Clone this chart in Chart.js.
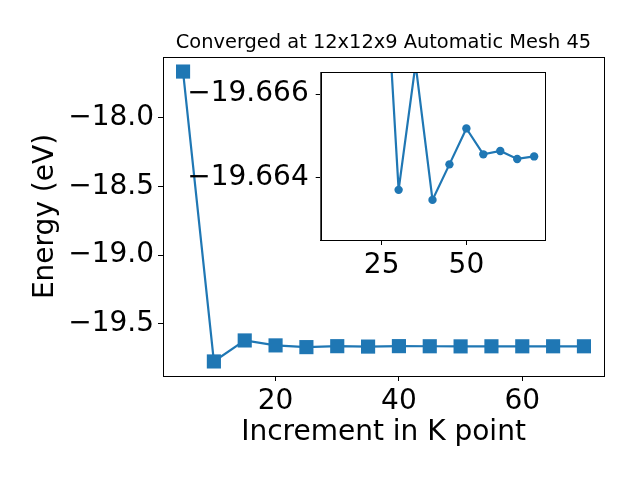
<!DOCTYPE html>
<html>
<head>
<meta charset="utf-8">
<script src="https://cdn.jsdelivr.net/npm/chart.js@4"></script>
<style>
  html, body { margin: 0; padding: 0; background: #fff; }
  #wrap { position: relative; width: 640px; height: 480px; }
  #wrap canvas { position: absolute; left: 0; top: 0; }
</style>
</head>
<body>
<div id="wrap">
  <canvas id="mainChart" width="640" height="480"></canvas>
  <canvas id="insetChart" width="640" height="480"></canvas>
</div>
<script>
// K point increments and total energies (eV)
const kpoints = [5, 10, 15, 20, 25, 30, 35, 40, 45, 50, 55, 60, 65, 70];
const energies = [-17.663, -19.775, -19.622, -19.658, -19.6706, -19.66371, -19.66672,
                  -19.66347, -19.66432, -19.66518, -19.66456, -19.66464, -19.66445, -19.66451];

// the zoomed inset starts at the 25 increment
const insetKpoints = kpoints.slice(4);
const insetEnergies = energies.slice(4);

const titleText = 'Converged at 12x12x9 Automatic Mesh 45';
const xLabel = 'Increment in K point';
const yLabel = 'Energy (eV)';

const blue = '#1f77b4';
const fontFamily = '"DejaVu Sans", sans-serif';

function toPoints(xs, ys) {
    return xs.map((x, i) => ({ x: x, y: ys[i] }));
}

function minusSign(text) {
    return String(text).replace('-', '\u2212');
}

// draws the four spines around the plot area (and a white face for the inset)
const boxPlugin = {
    id: 'box',
    beforeDatasetsDraw(chart, args, opts) {
        if (!opts.fill) return;
        const a = chart.chartArea;
        const ctx = chart.ctx;
        ctx.save();
        ctx.fillStyle = '#fff';
        ctx.fillRect(a.left, a.top, a.right - a.left, a.bottom - a.top);
        ctx.restore();
    },
    afterDraw(chart) {
        const a = chart.chartArea;
        const ctx = chart.ctx;
        ctx.save();
        ctx.strokeStyle = '#000';
        ctx.lineWidth = 1;
        ctx.strokeRect(Math.round(a.left) + 0.5, Math.round(a.top) + 0.5,
                       Math.round(a.right - a.left), Math.round(a.bottom - a.top));
        ctx.restore();
    }
};

// white page background plus a title centred over the plot area
const bgPlugin = {
    id: 'bg',
    beforeDraw(chart) {
        const ctx = chart.ctx;
        ctx.save();
        ctx.fillStyle = '#fff';
        ctx.fillRect(0, 0, chart.width, chart.height);
        ctx.restore();
    },
    afterDraw(chart, args, opts) {
        if (!opts.text) return;
        const a = chart.chartArea;
        const ctx = chart.ctx;
        ctx.save();
        ctx.fillStyle = '#000';
        ctx.font = opts.font;
        ctx.textAlign = 'center';
        ctx.textBaseline = 'alphabetic';
        ctx.fillText(opts.text, (a.left + a.right) / 2, a.top - 9);
        ctx.restore();
    }
};

function axisGrid() {
    return {
        drawOnChartArea: false,
        drawTicks: true,
        tickLength: 5,
        color: '#000',
        lineWidth: 1
    };
}

const tickFont = { family: fontFamily, size: 28 };

// main chart
new Chart(document.getElementById('mainChart'), {
    type: 'line',
    data: {
        datasets: [{
            data: toPoints(kpoints, energies),
            borderColor: blue,
            backgroundColor: blue,
            borderWidth: 2.2,
            pointStyle: 'rect',
            pointRadius: 10,
            pointBorderWidth: 0,
            tension: 0
        }]
    },
    options: {
        responsive: false,
        animation: false,
        events: [],
        layout: { padding: { left: 0, right: 36, top: 57, bottom: 0 } },
        plugins: {
            legend: { display: false },
            tooltip: { enabled: false },
            title: { display: false },
            bg: { text: titleText, font: '19.4px "DejaVu Sans", sans-serif' },
            box: { fill: false }
        },
        scales: {
            x: {
                type: 'linear',
                min: 1.75,
                max: 73.25,
                afterFit: s => { s.height = 104; },
                ticks: {
                    stepSize: 20,
                    includeBounds: false,
                    color: '#000',
                    font: tickFont,
                    padding: 4,
                    maxRotation: 0
                },
                grid: axisGrid(),
                border: { display: true, color: '#000', width: 1 },
                title: {
                    display: true,
                    text: xLabel,
                    color: '#000',
                    font: { family: fontFamily, size: 28 },
                    padding: { top: 30, bottom: 30 }
                }
            },
            y: {
                type: 'linear',
                min: -19.881,
                max: -17.557,
                afterFit: s => { s.width = 163; },
                ticks: {
                    stepSize: 0.5,
                    includeBounds: false,
                    color: '#000',
                    font: tickFont,
                    padding: 4,
                    callback: v => minusSign(v.toFixed(1))
                },
                grid: axisGrid(),
                border: { display: true, color: '#000', width: 1 },
                title: {
                    display: true,
                    text: yLabel,
                    color: '#000',
                    font: { family: fontFamily, size: 28 },
                    padding: { top: 29, bottom: 29 }
                }
            }
        }
    },
    plugins: [bgPlugin, boxPlugin]
});

// zoomed inset, y axis runs downward as in the original
new Chart(document.getElementById('insetChart'), {
    type: 'line',
    data: {
        datasets: [{
            data: toPoints(insetKpoints, insetEnergies),
            borderColor: blue,
            backgroundColor: blue,
            borderWidth: 2.2,
            pointStyle: 'circle',
            pointRadius: 4.2,
            pointBorderWidth: 0,
            tension: 0,
            clip: 0
        }]
    },
    options: {
        responsive: false,
        animation: false,
        events: [],
        layout: { padding: { left: 0, right: 95.7, top: 72, bottom: 0 } },
        plugins: {
            legend: { display: false },
            tooltip: { enabled: false },
            title: { display: false },
            box: { fill: true }
        },
        scales: {
            x: {
                type: 'linear',
                min: 7,
                max: 73,
                afterFit: s => { s.height = 240; },
                ticks: {
                    stepSize: 25,
                    includeBounds: false,
                    color: '#000',
                    font: tickFont,
                    padding: 4,
                    maxRotation: 0
                },
                grid: axisGrid(),
                border: { display: true, color: '#000', width: 1 }
            },
            y: {
                type: 'linear',
                reverse: true,
                min: -19.66653,
                max: -19.66251,
                afterFit: s => { s.width = 320.7; },
                ticks: {
                    stepSize: 0.002,
                    includeBounds: false,
                    color: '#000',
                    font: tickFont,
                    padding: 7,
                    callback: v => minusSign(v.toFixed(3))
                },
                grid: axisGrid(),
                border: { display: true, color: '#000', width: 1 }
            }
        }
    },
    plugins: [boxPlugin]
});
</script>
</body>
</html>
